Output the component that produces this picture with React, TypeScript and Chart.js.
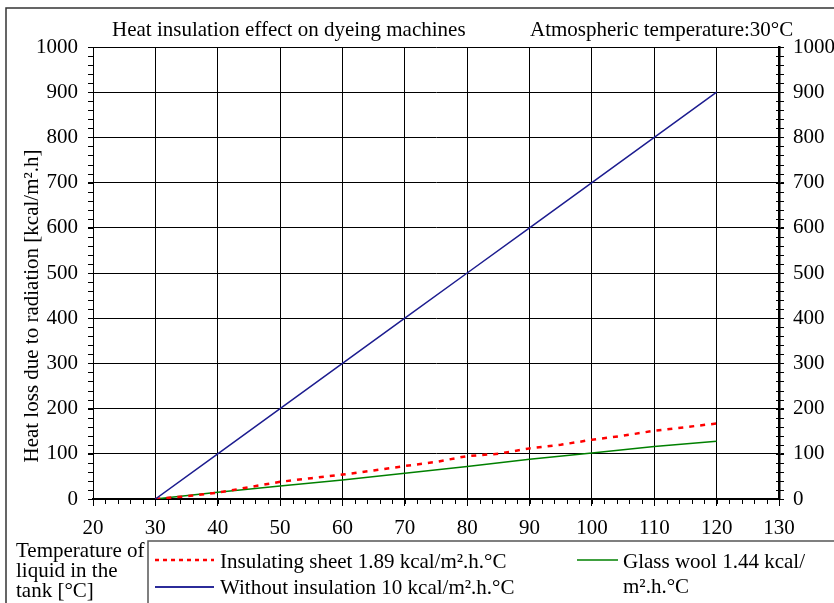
import React, { useEffect, useRef } from "react";
import { Chart, registerables } from "chart.js";

Chart.register(...registerables);

const temps = [30, 40, 50, 60, 70, 80, 90, 100, 110, 120];
const withoutInsulation = [0, 100, 200, 300, 400, 500, 600, 700, 800, 900];
const sheetTemps = [30, 35, 40, 45, 50, 55, 60, 65, 70, 75, 80, 85, 90, 95, 100, 105, 110, 115, 120];
const insulatingSheet = [0, 6, 14, 26, 38, 46, 54, 63, 73, 82, 95, 100, 112, 120, 131, 140, 151, 159, 167];
const glassWool = [0, 15, 29, 42, 57, 72, 88, 102, 116, 128];

const xTickMin = 20;
const xTickMax = 130;
const yTickMax = 1000;

const titleText = "Heat insulation effect on dyeing machines";
const subTitleText = "Atmospheric temperature:30°C";
const yTitle = "Heat loss due to radiation [kcal/m².h]";
const xTitleLines = ["Temperature of", "liquid in the", "tank [°C]"];
const legendSheet = "Insulating sheet 1.89 kcal/m².h.°C";
const legendWithout = "Without insulation 10 kcal/m².h.°C";
const legendGlass = ["Glass wool 1.44 kcal/", "m².h.°C"];

const FONT = "'Liberation Serif', 'Times New Roman', serif";
const TICK_SIZE = 21;
const TEXT_SIZE = 21;

const decor = {
  id: "decor",
  afterDraw(chart: any) {
    const ctx = chart.ctx;
    const area = chart.chartArea;
    const xs = chart.scales.x;
    const ys = chart.scales.y;
    ctx.save();
    // minor ticks
    ctx.strokeStyle = "#000";
    ctx.lineWidth = 1;
    ctx.beginPath();
    for (let v = xTickMin; v <= xTickMax; v += 2) {
      const px = Math.round(xs.getPixelForValue(v)) + 0.5;
      ctx.moveTo(px, area.bottom);
      ctx.lineTo(px, area.bottom + 5);
    }
    for (let v = 0; v <= yTickMax; v += 20) {
      const py = Math.round(ys.getPixelForValue(v)) + 0.5;
      ctx.moveTo(area.left - 5, py);
      ctx.lineTo(area.left, py);
      ctx.moveTo(area.right - 3, py);
      ctx.lineTo(area.right + 5, py);
    }
    ctx.stroke();

    // outer frame
    ctx.strokeStyle = "#333";
    ctx.lineWidth = 1.5;
    ctx.beginPath();
    ctx.moveTo(6, 603);
    ctx.lineTo(6, 8);
    ctx.lineTo(834, 8);
    ctx.stroke();

    // legend box
    ctx.strokeStyle = "#555";
    ctx.beginPath();
    ctx.moveTo(148, 603);
    ctx.lineTo(148, 541);
    ctx.lineTo(834, 541);
    ctx.stroke();

    ctx.fillStyle = "#000";
    ctx.textBaseline = "middle";
    ctx.textAlign = "left";
    ctx.font = `${TEXT_SIZE}px ${FONT}`;
    ctx.fillText(titleText, 112, 30);
    ctx.fillText(subTitleText, 530, 30);

    // x title
    xTitleLines.forEach((l, i) => ctx.fillText(l, 16, 551 + i * 20));

    // legend
    ctx.fillText(legendSheet, 220, 562);
    ctx.fillText(legendWithout, 220, 588);
    ctx.fillText(legendGlass[0], 623, 562);
    ctx.fillText(legendGlass[1], 623, 587);

    ctx.lineWidth = 2.5;
    ctx.strokeStyle = "#ff0000";
    ctx.setLineDash([4, 4]);
    ctx.beginPath();
    ctx.moveTo(155, 560);
    ctx.lineTo(214, 560);
    ctx.stroke();
    ctx.setLineDash([]);
    ctx.lineWidth = 2;
    ctx.strokeStyle = "#2b2b99";
    ctx.beginPath();
    ctx.moveTo(155, 587);
    ctx.lineTo(214, 587);
    ctx.stroke();
    ctx.strokeStyle = "#008000";
    ctx.lineWidth = 1.5;
    ctx.beginPath();
    ctx.moveTo(577, 560);
    ctx.lineTo(618, 560);
    ctx.stroke();

    // y title
    ctx.translate(32, 306);
    ctx.rotate(-Math.PI / 2);
    ctx.textAlign = "center";
    ctx.fillText(yTitle, 0, 0);
    ctx.restore();
  },
};

export default function App() {
  const ref = useRef<HTMLCanvasElement>(null);
  useEffect(() => {
    document.body.style.margin = "0";
    const canvas = ref.current!;
    const tickFont = { family: FONT, size: TICK_SIZE };
    const plain = (v: any) => String(v);
    const chart = new Chart(canvas, {
      type: "line",
      data: {
        datasets: [
          {
            label: "Without insulation",
            data: temps.map((t, i) => ({ x: t, y: withoutInsulation[i] })),
            borderColor: "#1c1c8f",
            borderWidth: 1.5,
            pointRadius: 0,
            tension: 0,
          },
          {
            label: "Insulating sheet",
            data: sheetTemps.map((t, i) => ({ x: t, y: insulatingSheet[i] })),
            borderColor: "#ff0000",
            borderWidth: 2.5,
            borderDash: [5, 6],
            pointRadius: 0,
            tension: 0,
          },
          {
            label: "Glass wool",
            data: temps.map((t, i) => ({ x: t, y: glassWool[i] })),
            borderColor: "#008000",
            borderWidth: 1.5,
            pointRadius: 0,
            tension: 0,
          },
        ],
      },
      options: {
        responsive: false,
        animation: false,
        devicePixelRatio: 1,
        layout: { padding: { top: 47, left: 0, right: 0, bottom: 0 } },
        plugins: { legend: { display: false }, tooltip: { enabled: false }, title: { display: false } },
        scales: {
          x: {
            type: "linear",
            min: xTickMin,
            max: xTickMax,
            ticks: { stepSize: 10, color: "#000", font: tickFont, padding: 10, maxRotation: 0, callback: plain },
            grid: { color: "#000", lineWidth: 1, tickLength: 7, tickColor: "#000" },
            border: { color: "#000", width: 2 },
            afterFit: (s: any) => { s.height = 104; },
          },
          y: {
            type: "linear",
            position: "left",
            min: 0,
            max: yTickMax,
            ticks: { stepSize: 100, color: "#000", font: tickFont, padding: 10, callback: plain },
            grid: { color: "#000", lineWidth: 1, tickLength: 5, tickColor: "#000" },
            border: { color: "#000", width: 1 },
            afterFit: (s: any) => { s.width = 93; },
          },
          y2: {
            type: "linear",
            position: "right",
            min: 0,
            max: yTickMax,
            ticks: { stepSize: 100, color: "#000", font: tickFont, padding: 9, callback: plain },
            grid: { drawOnChartArea: false, tickLength: 5, tickColor: "#000" },
            border: { color: "#000", width: 2.5 },
            afterFit: (s: any) => { s.width = 55; },
          },
        },
      },
      plugins: [decor],
    } as any);
    return () => chart.destroy();
  }, []);
  return (
    <div style={{ width: 834, height: 603 }}>
      <canvas ref={ref} width={834} height={603} />
    </div>
  );
}
